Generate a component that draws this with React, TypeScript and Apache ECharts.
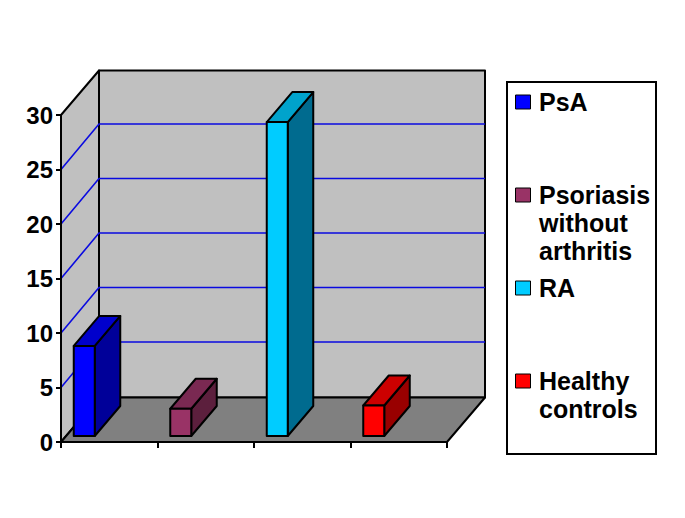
import React, { useEffect, useRef } from "react";
import * as echarts from "echarts";

const categories = ["Group 1", "Group 2", "Group 3", "Group 4"];
const seriesNames = ["PsA", "Psoriasis\nwithout\narthritis", "RA", "Healthy\ncontrols"];
const seriesValues = [8.26, 2.5, 28.8, 2.8];
const frontColors = ["#0000ff", "#993366", "#00ccff", "#ff0000"];
const topColors = ["#0000cc", "#7a2952", "#00a3cc", "#cc0000"];
const sideColors = ["#000099", "#5c1f3d", "#006b8f", "#990000"];
const gridTicks = [5, 10, 15, 20, 25];
const FONT = '"Liberation Sans", Arial, sans-serif';

const WALL_DX = 38;
const WALL_DY = -44.5;
const LINE_DY = -45.5;
const BAR_W = 21;
const BAR_DX = 25.5;
const BAR_DY = -30;
const BAR_SHIFT_X = -25;
const BAR_SHIFT_Y = -6;
const EDGE = { stroke: "#000", lineWidth: 2, lineJoin: "round" as const };

function renderWalls(params: any, api: any) {
  const c = params.coordSys;
  const x0 = c.x, x1 = c.x + c.width, top = c.y, bottom = c.y + c.height;
  return {
    type: "group",
    children: [
      { type: "polygon", shape: { points: [[x0, bottom], [x0, top], [x0 + WALL_DX, top + WALL_DY], [x0 + WALL_DX, bottom + WALL_DY]] }, style: { fill: "#c0c0c0", ...EDGE } },
      { type: "polygon", shape: { points: [[x0 + WALL_DX, top + WALL_DY], [x1 + WALL_DX, top + WALL_DY], [x1 + WALL_DX, bottom + WALL_DY], [x0 + WALL_DX, bottom + WALL_DY]] }, style: { fill: "#c0c0c0", ...EDGE } },
      { type: "polygon", shape: { points: [[x0, bottom], [x0 + WALL_DX, bottom + WALL_DY], [x1 + WALL_DX, bottom + WALL_DY], [x1, bottom]] }, style: { fill: "#808080", ...EDGE } },
    ],
  };
}

function renderGridLine(params: any, api: any) {
  const c = params.coordSys;
  const y = api.coord([0, api.value(1)])[1];
  return {
    type: "polyline",
    shape: { points: [[c.x, y], [c.x + WALL_DX, y + LINE_DY], [c.x + c.width + WALL_DX, y + LINE_DY]] },
    style: { fill: "none", stroke: "#0a0ae0", lineWidth: 1.6 },
  };
}

function makeBarRenderer(idx: number) {
  return (_params: any, api: any) => {
    const base = api.coord([api.value(0), 0]);
    const tip = api.coord([api.value(0), api.value(1)]);
    const l = base[0] + BAR_SHIFT_X - BAR_W / 2;
    const r = l + BAR_W;
    const b = base[1] + BAR_SHIFT_Y;
    const t = tip[1] + BAR_SHIFT_Y;
    return {
      type: "group",
      children: [
        { type: "polygon", shape: { points: [[r, b], [r, t], [r + BAR_DX, t + BAR_DY], [r + BAR_DX, b + BAR_DY]] }, style: { fill: sideColors[idx], ...EDGE } },
        { type: "polygon", shape: { points: [[l, t], [l + BAR_DX, t + BAR_DY], [r + BAR_DX, t + BAR_DY], [r, t]] }, style: { fill: topColors[idx], ...EDGE } },
        { type: "rect", shape: { x: l, y: t, width: BAR_W, height: b - t }, style: { fill: frontColors[idx], ...EDGE } },
      ],
    };
  };
}

const LEGEND_LEFT = 507, LEGEND_TOP = 82, LEGEND_W = 149, LEGEND_H = 372, LEGEND_SLOT = 93;

function legendGraphics() {
  const items: any[] = [
    { type: "rect", shape: { x: LEGEND_LEFT, y: LEGEND_TOP, width: LEGEND_W, height: LEGEND_H }, style: { fill: "#fff", stroke: "#000", lineWidth: 2 } },
  ];
  seriesNames.forEach((name, i) => {
    const y = 102 + i * LEGEND_SLOT;
    items.push({ type: "rect", shape: { x: 515.5, y: y - 7, width: 15, height: 14 }, style: { fill: frontColors[i], stroke: "#000", lineWidth: 1 } });
    items.push({
      type: "text", x: 539, y: y - 14,
      style: { text: name, fill: "#000", font: `bold 25px ${FONT}`, lineHeight: 28, textAlign: "left", textVerticalAlign: "top" },
    });
  });
  return items;
}

export default function App() {
  const ref = useRef<HTMLDivElement>(null);
  useEffect(() => {
    const chart = echarts.init(ref.current!, null, { renderer: "svg" });
    chart.setOption({
      animation: false,
      backgroundColor: "#fff",
      grid: { left: 61, top: 115, width: 386, height: 327, containLabel: false },
      xAxis: {
        type: "category", data: categories, z: 5,
        axisLine: { lineStyle: { color: "#000", width: 2 } },
        axisTick: { show: true, alignWithLabel: false, length: 6, lineStyle: { color: "#000", width: 2 } },
        axisLabel: { show: false },
        splitLine: { show: false },
      },
      yAxis: {
        type: "value", min: 0, max: 30, interval: 5, z: 5,
        axisLine: { show: true, lineStyle: { color: "#000", width: 2 } },
        axisTick: { show: true, length: 5, lineStyle: { color: "#000", width: 2 } },
        axisLabel: { color: "#000", fontFamily: FONT, fontWeight: "bold", fontSize: 24, margin: 8 },
        splitLine: { show: false },
      },
      series: [
        { type: "custom", name: "walls", silent: true, clip: false, z: 1, renderItem: renderWalls, data: [[0, 0]] },
        { type: "custom", name: "gridlines", silent: true, clip: false, z: 2, renderItem: renderGridLine, data: gridTicks.map((v) => [0, v]) },
        ...seriesNames.map((name, i) => ({
          type: "custom", name, clip: false, z: 3 + i, renderItem: makeBarRenderer(i),
          data: [[i, seriesValues[i]]],
        })),
      ],
      graphic: legendGraphics(),
    });
    return () => chart.dispose();
  }, []);
  return <div ref={ref} style={{ position: "fixed", left: 0, top: 0, width: 685, height: 518 }} />;
}
